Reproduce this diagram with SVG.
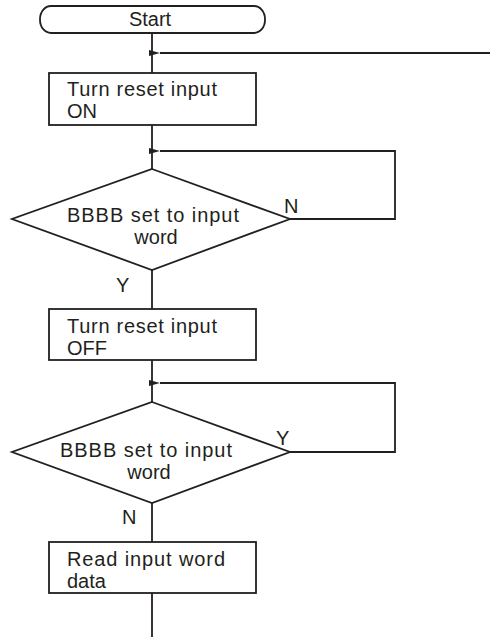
<svg xmlns="http://www.w3.org/2000/svg" width="490" height="637" viewBox="0 0 490 637">
<style>
.s{fill:#fff;stroke:#231f20;stroke-width:1.8}
.c{fill:none;stroke:#231f20;stroke-width:1.8}
text{font-family:"Liberation Sans",Arial,sans-serif;font-size:20px;fill:#231f20}
.m{text-anchor:middle}
</style>
<defs>
<marker id="a" markerWidth="11" markerHeight="7" refX="0" refY="3.5" orient="auto" markerUnits="userSpaceOnUse">
<path d="M0,3.5 L11,0.5 L11,6.5 Z" fill="#231f20"/>
</marker>
</defs>
<g id="connectors">
<path class="c" d="M152,33 V73"/>
<path class="c" d="M490,53 H160" marker-end="url(#a)"/>
<path class="c" d="M152,125 V169"/>
<path class="c" d="M290,219 H395 V151 H160" marker-end="url(#a)"/>
<path class="c" d="M152,270 V309"/>
<path class="c" d="M152,360 V402"/>
<path class="c" d="M290,452 H395 V383 H160" marker-end="url(#a)"/>
<path class="c" d="M152,503 V542"/>
<path class="c" d="M152,593 V637"/>
<text x="284" y="213">N</text>
<text x="116" y="292">Y</text>
<text x="276" y="445">Y</text>
<text x="122" y="524">N</text>
</g>
<g id="start">
<rect class="s" x="40" y="6" width="225" height="27" rx="11" ry="13"/>
<text class="m" x="150" y="26">Start</text>
</g>
<g id="reset-on">
<rect class="s" x="49" y="73" width="207" height="52"/>
<text x="67" y="96" textLength="150">Turn reset input</text>
<text x="67" y="118">ON</text>
</g>
<g id="check1">
<polygon class="s" points="152,169 290,219 152,270 12,219"/>
<text class="m" x="153" y="222" textLength="172">BBBB set to input</text>
<text class="m" x="156" y="244">word</text>
</g>
<g id="reset-off">
<rect class="s" x="49" y="309" width="207" height="51"/>
<text x="67" y="333" textLength="150">Turn reset input</text>
<text x="67" y="355">OFF</text>
</g>
<g id="check2">
<polygon class="s" points="152,402 290,452 152,503 12,452"/>
<text class="m" x="146" y="457" textLength="172">BBBB set to input</text>
<text class="m" x="149" y="479">word</text>
</g>
<g id="read">
<rect class="s" x="49" y="542" width="207" height="51"/>
<text x="67" y="566" textLength="158">Read input word</text>
<text x="67" y="588">data</text>
</g>
</svg>
